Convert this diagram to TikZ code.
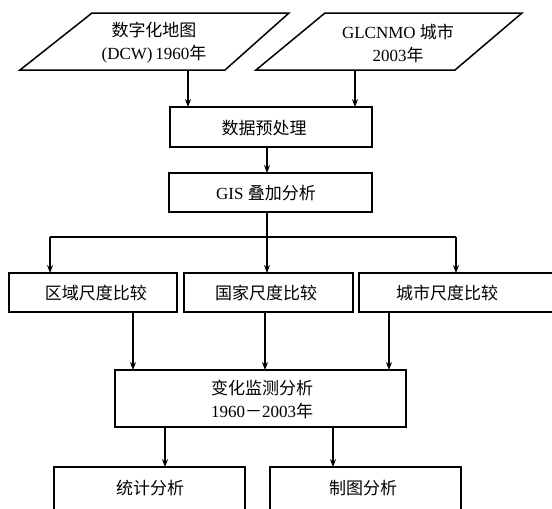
\documentclass[tikz,border=0pt]{standalone}
\usepackage{fontspec}
\setmainfont{Liberation Serif}
\newfontfamily\cjk{Noto Sans CJK SC}
\newcommand\zh[1]{{\cjk #1}}
\usetikzlibrary{arrows.meta}
\begin{document}
\begin{tikzpicture}[x=1pt,y=-1pt,
  box/.style={draw,line width=1.5pt},
  txt/.style={font=\fontsize{17}{23}\selectfont,align=center,inner sep=0pt},
  arr/.style={line width=1.1pt,-{Stealth[length=8pt,width=6pt]}},
  ln/.style={line width=1.1pt}]
\clip (0,0) rectangle (552,509);
\fill[white] (0,0) rectangle (552,509);
% parallelograms
\draw[box] (92,13) -- (289,13) -- (225,70) -- (20,70) -- cycle;
\draw[box] (325,13) -- (522,13) -- (455,70) -- (256,70) -- cycle;
\node[txt] (p1) at (154,43) {\zh{数字化地图}\\(DCW)\,1960\zh{年}};
\node[txt] (p2) at (398,43) {GLCNMO \zh{城市}\\2003\zh{年}};
\coordinate (p1b) at (188,70);
\coordinate (p2b) at (355,70);
% boxes
\draw[box] (170,107) rectangle (372,147);
\node[txt] (pre) at (264,128) {\zh{数据预处理}};
\draw[box] (169,173) rectangle (372,212);
\node[txt] (gis) at (266,193) {GIS \zh{叠加分析}};
\draw[box] (9,273) rectangle (177,312);
\node[txt] (r1) at (96,293) {\zh{区域尺度比较}};
\draw[box] (184,273) rectangle (353,312);
\node[txt] (r2) at (266,293) {\zh{国家尺度比较}};
\draw[box] (359,273) rectangle (570,312);
\node[txt] (r3) at (447,293) {\zh{城市尺度比较}};
\draw[box] (115,370) rectangle (406,427);
\node[txt] (chg) at (262,399) {\zh{变化监测分析}\\1960\zh{－}2003\zh{年}};
\draw[box] (54,467) rectangle (245,530);
\node[txt] (s1) at (150,488) {\zh{统计分析}};
\draw[box] (270,467) rectangle (461,530);
\node[txt] (s2) at (363,488) {\zh{制图分析}};
% connectors
\coordinate (preT1) at (188,107);
\coordinate (preT2) at (355,107);
\draw[arr] (p1b) -- (preT1);
\draw[arr] (p2b) -- (preT2);
\draw[arr] (267,147) -- (267,173);
\coordinate (gisB) at (267,212);
\coordinate (split) at (267,237);
\draw[ln] (gisB) -- (split);
\draw[arr] (split) -- (267,273);
\draw[ln] (50,237) -- (456,237);
\draw[arr] (50,237) -- (50,273);
\draw[arr] (456,237) -- (456,273);
\draw[arr] (133,312) -- (133,370);
\draw[arr] (265,312) -- (265,370);
\draw[arr] (389,312) -- (389,370);
\draw[arr] (165,427) -- (165,467);
\draw[arr] (333,427) -- (333,467);
\end{tikzpicture}
\end{document}
